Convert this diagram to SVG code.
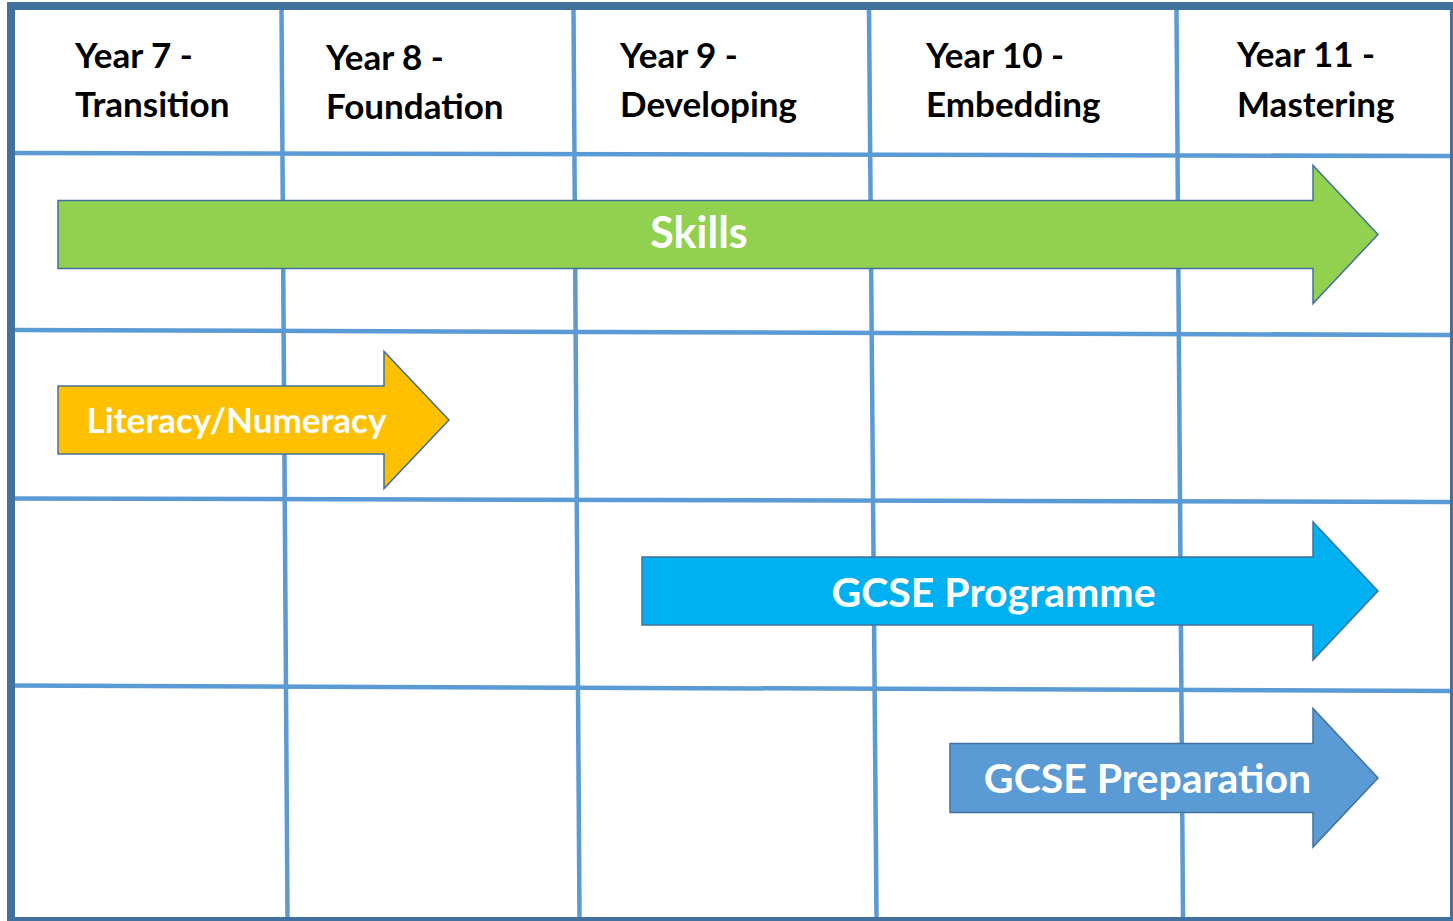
<svg xmlns="http://www.w3.org/2000/svg" width="1453" height="921" viewBox="0 0 1453 921">
<style>
.grid{stroke:#5B9BD5;stroke-width:4.5;fill:none}
.border{stroke:#41719C;stroke-width:8;fill:none}
.arrow{stroke:#41719C;stroke-width:1.5;stroke-linejoin:miter}
.hdr{font-family:Lato,"Liberation Sans",sans-serif;font-weight:bold;font-size:35px;fill:#000}
.lbl{font-family:Lato,"Liberation Sans",sans-serif;font-weight:bold;fill:#fff;text-anchor:middle}
</style>
<rect x="0" y="0" width="1453" height="921" fill="#fff"/>
<g id="grid-lines">
<line class="grid" x1="10" y1="153" x2="1450" y2="156"/>
<line class="grid" x1="10" y1="330" x2="1450" y2="335"/>
<line class="grid" x1="10" y1="498.5" x2="1450" y2="502"/>
<line class="grid" x1="10" y1="685.5" x2="1450" y2="691"/>
<line class="grid" x1="281.5" y1="10" x2="287.5" y2="917"/>
<line class="grid" x1="573.5" y1="10" x2="579.5" y2="917"/>
<line class="grid" x1="869" y1="10" x2="876.5" y2="917"/>
<line class="grid" x1="1176.5" y1="10" x2="1183" y2="917"/>
</g>
<rect class="border" x="11" y="6" width="1443" height="915"/>
<g id="headers">
<text class="hdr" x="75" y="68">Year 7 -</text>
<text class="hdr" x="75" y="117">Transition</text>
<text class="hdr" x="326" y="70">Year 8 -</text>
<text class="hdr" x="326" y="119">Foundation</text>
<text class="hdr" x="620" y="68">Year 9 -</text>
<text class="hdr" x="620" y="117">Developing</text>
<text class="hdr" x="926" y="68">Year 10 -</text>
<text class="hdr" x="926" y="117">Embedding</text>
<text class="hdr" x="1237" y="67">Year 11 -</text>
<text class="hdr" x="1237" y="117">Mastering</text>
</g>
<g id="skills">
<polygon class="arrow" fill="#92D050" points="58,200.5 1313,200.5 1313,165.5 1378,234.5 1313,303.5 1313,268.5 58,268.5"/>
<text class="lbl" x="699" y="248" font-size="43">Skills</text>
</g>
<g id="literacy-numeracy">
<polygon class="arrow" fill="#FFC000" points="58,386 384,386 384,351.5 449,420 384,488.5 384,454 58,454"/>
<text class="lbl" x="236.5" y="433" font-size="35">Literacy/Numeracy</text>
</g>
<g id="gcse-programme">
<polygon class="arrow" fill="#00B0F0" points="642,557 1313,557 1313,522 1378,591 1313,660 1313,625 642,625"/>
<text class="lbl" x="993.5" y="607" font-size="41">GCSE Programme</text>
</g>
<g id="gcse-preparation">
<polygon class="arrow" fill="#5B9BD5" points="950,743.5 1313,743.5 1313,708.5 1378,778 1313,847 1313,812.5 950,812.5"/>
<text class="lbl" x="1147.5" y="793" font-size="41">GCSE Preparation</text>
</g>
</svg>
